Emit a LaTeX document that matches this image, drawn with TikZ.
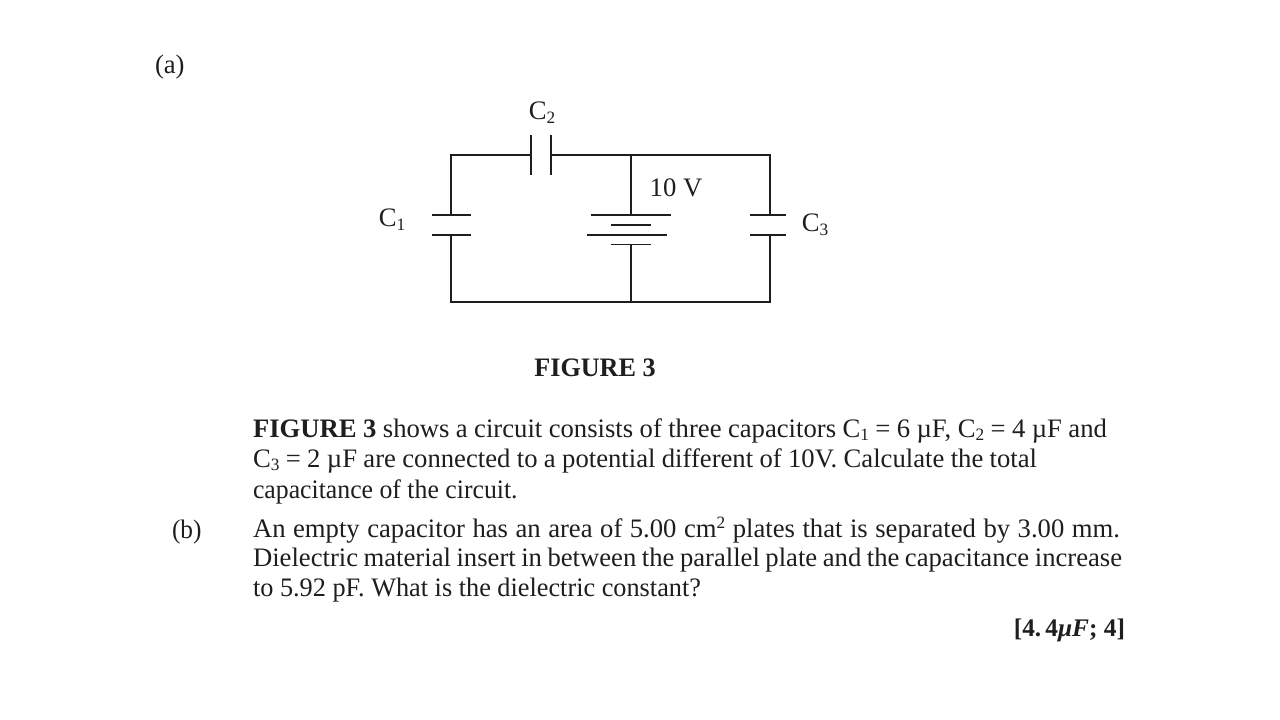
\documentclass[tikz,border=0pt]{standalone}
\usepackage{fontspec}
\usepackage{graphicx}
\setmainfont{Liberation Serif}
\newcommand{\sbs}[1]{\raisebox{-0.3ex}{\fontsize{13}{13}\selectfont #1}}
\newcommand{\sps}[1]{\raisebox{0.7ex}{\fontsize{13}{13}\selectfont #1}}
\newcommand{\fitline}[2]{\hbox to \dimexpr#1pt*3/4\relax{#2}}
\definecolor{ink}{HTML}{1E1E1E}
\tikzset{
  wire/.style={draw=ink,line width=0.95pt},
  txt/.style={inner sep=0pt,outer sep=0pt,anchor=base west,text=ink,font=\fontsize{20}{20}\selectfont},
  lab/.style={inner sep=0pt,outer sep=0pt,anchor=base,text=ink,font=\fontsize{20}{20}\selectfont}
}
\begin{document}
\begin{tikzpicture}[x=0.75pt,y=-0.75pt]
\useasboundingbox[fill=white] (0,0) rectangle (1280,720);
% junctions
\coordinate (tl) at (451,155);
\coordinate (tm) at (631,155);
\coordinate (tr) at (770,155);
\coordinate (bl) at (451,302);
\coordinate (bm) at (631,302);
\coordinate (br) at (770,302);
\coordinate (c1a) at (451,215);
\coordinate (c1b) at (451,235);
\coordinate (c3a) at (770,215);
\coordinate (c3b) at (770,235);
\coordinate (c2a) at (531,155);
\coordinate (c2b) at (551,155);
\coordinate (ba) at (631,215);
\coordinate (bb) at (631,244);
% wires
\draw[wire] (c2a) -- (tl) -- (c1a);
\draw[wire] (c2b) -- (tm) -- (tr) -- (c3a);
\draw[wire] (c1b) -- (bl) -- (bm) -- (br) -- (c3b);
\draw[wire] (tm) -- (ba);
\draw[wire] (bb) -- (bm);
% C2
\draw[wire] (531,135) -- (531,175);
\draw[wire] (551,135) -- (551,175);
% C1
\draw[wire] (432,215) -- (471,215);
\draw[wire] (432,235) -- (471,235);
% C3
\draw[wire] (750,215) -- (786,215);
\draw[wire] (750,235) -- (786,235);
% battery
\draw[wire] (591,215) -- (671,215);
\draw[wire] (611,225) -- (651,225);
\draw[wire] (587,235) -- (667,235);
\draw[wire,line width=0.7pt] (611,244) -- (651,244);
% labels
\node[txt] (a) at (155,74) {(a)};
\node[lab] (c2) at (542,120) {C\sbs{2}};
\node[lab] (c1) at (392,227) {C\sbs{1}};
\node[lab] (c3) at (815,232) {C\sbs{3}};
\node[lab] (v) at (676,197) {10 V};
\node[lab,font=\fontsize{20}{20}\selectfont\bfseries] (fig) at (595,376) {\scalebox{0.98}[1]{FIGURE 3}};
\node[txt] (l1) at (253,437) {\fitline{854}{\textbf{FIGURE 3} shows a circuit consists of three capacitors C\sbs{1} = 6 µF, C\sbs{2} = 4 µF and}};
\node[txt] (l2) at (253,467) {\fitline{784}{C\sbs{3} = 2 µF are connected to a potential different of 10V. Calculate the total}};
\node[txt] (l3) at (253,498) {\scalebox{0.966}[1]{capacitance of the circuit.}};
\node[txt] (b) at (172,538) {\scalebox{0.95}[1]{(b)}};
\node[txt] (l4) at (253,537) {\fitline{867}{An empty capacitor has an area of 5.00 cm\sps{2} plates that is separated by 3.00 mm.}};
\node[txt] (l5) at (253,566) {\fitline{869}{Dielectric material insert in between the parallel plate and the capacitance increase}};
\node[txt] (l6) at (253,596) {\scalebox{0.985}[1]{to 5.92 pF. What is the dielectric constant?}};
\node[inner sep=0pt,outer sep=0pt,anchor=base east,text=ink,font=\fontsize{19}{19}\selectfont\bfseries] (ans) at (1125,636) {[4.\,4\textit{μF}; 4]};
\end{tikzpicture}
\end{document}
